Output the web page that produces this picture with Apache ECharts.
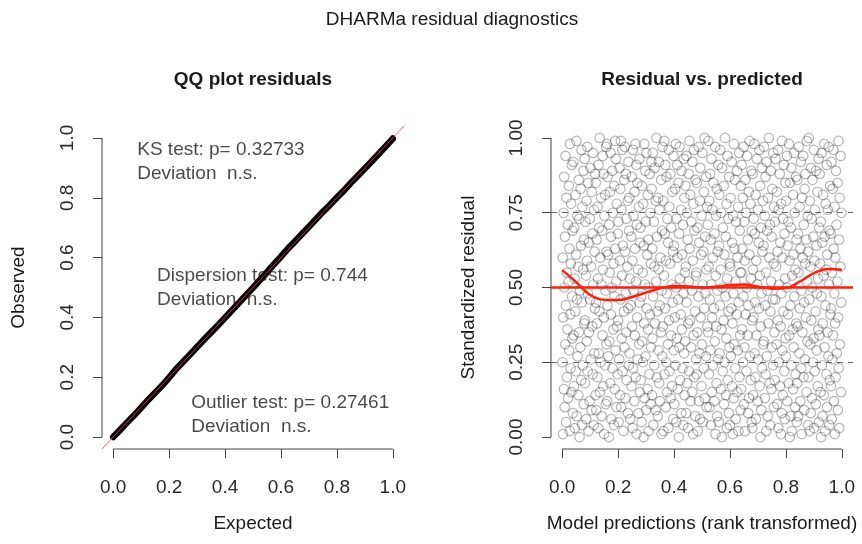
<!DOCTYPE html>
<html>
<head>
<meta charset="utf-8">
<script src="https://cdn.jsdelivr.net/npm/echarts@6/dist/echarts.min.js"></script>
<style>
  html, body { margin: 0; padding: 0; background: #fff; }
  #chart { width: 862px; height: 544px; }
</style>
</head>
<body>
<div id="chart"></div>
<script>
// ---- Titles and texts ----
const mainTitle = 'DHARMa residual diagnostics';
const qqTitle = 'QQ plot residuals';
const residTitle = 'Residual vs. predicted';
const testTexts = [
  'KS test: p= 0.32733\nDeviation  n.s.',
  'Dispersion test: p= 0.744\nDeviation  n.s.',
  'Outlier test: p= 0.27461\nDeviation  n.s.'
];

// ---- Tick labels ----
const qqTicks = [0, 0.2, 0.4, 0.6, 0.8, 1];
const predTicks = [0, 0.2, 0.4, 0.6, 0.8, 1];
const residTicks = [0, 0.25, 0.5, 0.75, 1];

// ---- QQ plot: expected vs observed quantiles ----
const qqExpected = [0,0.025,0.05,0.075,0.1,0.125,0.15,0.175,0.2,0.225,0.25,0.275,0.3,0.325,0.35,0.375,0.4,0.425,0.45,0.475,0.5,
  0.525,0.55,0.575,0.6,0.625,0.65,0.675,0.7,0.725,0.75,0.775,0.8,0.825,0.85,0.875,0.9,0.925,0.95,0.975,1];
const qqObserved = [0.000,0.024,0.049,0.073,0.098,0.124,0.148,0.172,0.199,0.227,0.252,0.276,0.301,0.326,0.350,0.374,0.399,0.424,0.449,0.474,0.499,
  0.525,0.551,0.578,0.603,0.630,0.654,0.679,0.703,0.728,0.753,0.776,0.801,0.824,0.850,0.874,0.898,0.922,0.947,0.972,0.998];

// ---- Residuals vs rank-transformed predictions ----
const predicted = [
.003,.027,.014,.038,.009,.021,.033,.006,.017,.030,.001,.025,.011,.036,.019,.004,.029,.013,.035,.008,.023,.016,.031,.002,.026,.010,.037,.020,.005,.032,.015,.024,.007,.034,.012,.028,
.062,.045,.071,.052,.077,.058,.042,.068,.049,.074,.055,.065,.041,.060,.079,.047,.070,.053,.064,.044,.075,.057,.050,.067,.078,.043,.061,.054,.072,.048,.066,.059,.076,.040,.069,.051,
.094,.113,.086,.105,.098,.119,.082,.109,.091,.102,.115,.088,.096,.107,.081,.117,.100,.092,.111,.085,.104,.089,.116,.095,.108,.083,.099,.114,.087,.106,.093,.118,.101,.080,.110,.090,
.150,.129,.141,.122,.156,.135,.147,.126,.153,.138,.131,.158,.144,.124,.149,.133,.121,.155,.140,.128,.146,.136,.159,.123,.143,.132,.151,.127,.139,.154,.120,.148,.130,.145,.157,.134,
.167,.185,.176,.194,.161,.188,.172,.198,.180,.165,.191,.169,.183,.196,.174,.162,.187,.178,.193,.170,.184,.164,.190,.175,.199,.168,.181,.195,.171,.186,.163,.179,.192,.173,.160,.189,
.219,.202,.235,.211,.226,.207,.231,.216,.238,.204,.223,.213,.229,.200,.221,.236,.209,.227,.214,.233,.206,.225,.217,.239,.201,.230,.212,.234,.208,.222,.228,.205,.237,.215,.224,.210,
.266,.252,.243,.273,.258,.278,.248,.263,.254,.270,.241,.275,.260,.250,.268,.245,.277,.256,.264,.242,.271,.251,.261,.279,.247,.267,.255,.274,.240,.259,.269,.249,.265,.276,.253,.262,
.291,.309,.284,.300,.316,.295,.305,.281,.312,.289,.298,.318,.286,.307,.293,.314,.302,.283,.310,.296,.288,.317,.304,.292,.308,.280,.299,.315,.290,.306,.285,.313,.297,.319,.301,.294,
.355,.326,.342,.334,.350,.321,.347,.338,.329,.358,.344,.323,.353,.332,.340,.349,.325,.356,.336,.345,.330,.351,.322,.339,.357,.328,.348,.335,.343,.320,.354,.331,.346,.324,.359,.337,
.362,.380,.397,.370,.388,.375,.393,.366,.384,.372,.399,.378,.389,.360,.382,.368,.395,.374,.391,.364,.386,.371,.396,.379,.367,.390,.376,.383,.361,.394,.373,.387,.369,.398,.381,.365,
.417,.433,.408,.426,.401,.438,.413,.422,.430,.405,.436,.419,.410,.428,.403,.424,.415,.434,.407,.421,.439,.412,.429,.400,.418,.432,.409,.425,.437,.404,.416,.427,.411,.435,.420,.406,
.468,.450,.476,.443,.459,.465,.447,.472,.454,.479,.461,.440,.470,.451,.457,.475,.445,.464,.453,.478,.442,.467,.456,.449,.473,.462,.446,.469,.458,.441,.477,.452,.466,.444,.471,.455,
.485,.503,.493,.517,.489,.510,.498,.481,.506,.514,.491,.500,.483,.519,.495,.508,.487,.512,.502,.480,.516,.497,.505,.490,.511,.484,.499,.518,.492,.507,.482,.515,.494,.501,.488,.509,
.523,.547,.534,.558,.529,.541,.553,.526,.537,.550,.521,.545,.531,.556,.539,.524,.549,.533,.555,.528,.543,.536,.551,.522,.546,.530,.557,.540,.525,.552,.535,.544,.527,.554,.532,.548,
.582,.565,.591,.572,.597,.578,.562,.588,.569,.594,.575,.585,.561,.580,.599,.567,.590,.573,.584,.564,.595,.577,.570,.587,.598,.563,.581,.574,.592,.568,.586,.579,.596,.560,.589,.571,
.614,.633,.606,.625,.618,.639,.602,.629,.611,.622,.635,.608,.616,.627,.601,.637,.620,.612,.631,.605,.624,.609,.636,.615,.628,.603,.619,.634,.607,.626,.613,.638,.621,.600,.630,.610,
.670,.649,.661,.642,.676,.655,.667,.646,.673,.658,.651,.678,.664,.644,.669,.653,.641,.675,.660,.648,.666,.656,.679,.643,.663,.652,.671,.647,.659,.674,.640,.668,.650,.665,.677,.654,
.687,.705,.696,.714,.681,.708,.692,.718,.700,.685,.711,.689,.703,.716,.694,.682,.707,.698,.713,.690,.704,.684,.710,.695,.719,.688,.701,.715,.691,.706,.683,.699,.712,.693,.680,.709,
.739,.722,.755,.731,.746,.727,.751,.736,.758,.724,.743,.733,.749,.720,.741,.756,.729,.747,.734,.753,.726,.745,.737,.759,.721,.750,.732,.754,.728,.742,.748,.725,.757,.735,.744,.730,
.786,.772,.763,.793,.778,.798,.768,.783,.774,.790,.761,.795,.780,.770,.788,.765,.797,.776,.784,.762,.791,.771,.781,.799,.767,.787,.775,.794,.760,.779,.789,.769,.785,.796,.773,.782,
.811,.829,.804,.820,.836,.815,.825,.801,.832,.809,.818,.838,.806,.827,.813,.834,.822,.803,.830,.816,.808,.837,.824,.812,.828,.800,.819,.835,.810,.826,.805,.833,.817,.839,.821,.814,
.875,.846,.862,.854,.870,.841,.867,.858,.849,.878,.864,.843,.873,.852,.860,.869,.845,.876,.856,.865,.850,.871,.842,.859,.877,.848,.868,.855,.863,.840,.874,.851,.866,.844,.879,.857,
.882,.900,.917,.890,.908,.895,.913,.886,.904,.892,.919,.898,.909,.880,.902,.888,.915,.894,.911,.884,.906,.891,.916,.899,.887,.910,.896,.903,.881,.914,.893,.907,.889,.918,.901,.885,
.937,.953,.928,.946,.921,.958,.933,.942,.950,.925,.956,.939,.930,.948,.923,.944,.935,.954,.927,.941,.959,.932,.949,.920,.938,.952,.929,.945,.957,.924,.936,.947,.931,.955,.940,.926,
.988,.970,.996,.963,.979,.985,.967,.992,.974,.999,.981,.960,.990,.971,.977,.995,.965,.984,.973,.998,.962,.987,.976,.969,.993,.982,.966,.989,.978,.961,.997,.972,.986,.964,.991,.975
];
const residuals = [
.01,.02,.05,.08,.10,.13,.15,.16,.20,.23,.25,.29,.31,.33,.36,.40,.41,.44,.47,.50,.52,.55,.58,.60,.63,.67,.69,.71,.75,.78,.80,.84,.87,.91,.94,.98,
.00,.03,.04,.07,.11,.14,.17,.19,.22,.24,.27,.30,.34,.35,.38,.42,.45,.46,.49,.53,.56,.57,.61,.64,.66,.70,.73,.74,.77,.81,.83,.86,.89,.92,.96,.99,
.02,.04,.06,.09,.12,.14,.18,.21,.22,.26,.28,.32,.35,.37,.39,.43,.46,.48,.51,.54,.57,.59,.62,.65,.68,.72,.73,.76,.79,.82,.85,.88,.90,.93,.95,.97,
.01,.03,.07,.09,.11,.15,.17,.20,.24,.25,.28,.31,.34,.38,.40,.42,.45,.49,.51,.53,.56,.60,.62,.66,.69,.70,.74,.77,.80,.81,.85,.88,.91,.94,.97,1.00,
.00,.04,.06,.10,.12,.16,.18,.21,.23,.27,.29,.32,.36,.37,.41,.44,.47,.50,.52,.55,.58,.61,.63,.67,.68,.71,.75,.78,.82,.84,.87,.89,.93,.95,.98,.99,
.02,.05,.08,.10,.13,.14,.19,.22,.24,.26,.30,.33,.35,.39,.42,.43,.46,.48,.54,.57,.59,.62,.64,.69,.72,.73,.76,.79,.83,.86,.88,.90,.92,.96,.97,.99,
.01,.03,.06,.08,.12,.15,.17,.20,.23,.26,.28,.31,.34,.37,.40,.44,.45,.49,.52,.53,.56,.59,.63,.65,.67,.71,.74,.77,.80,.82,.85,.87,.91,.93,.96,.98,
.00,.02,.05,.09,.11,.13,.16,.19,.21,.25,.27,.30,.32,.36,.38,.41,.43,.47,.50,.51,.55,.58,.61,.64,.66,.70,.72,.75,.78,.81,.84,.88,.89,.92,.95,.98,
.01,.04,.07,.09,.12,.14,.18,.20,.24,.27,.29,.33,.35,.38,.42,.44,.47,.49,.52,.56,.57,.60,.63,.67,.69,.72,.76,.79,.80,.83,.86,.90,.92,.95,.97,1.00,
.02,.03,.06,.10,.13,.15,.17,.21,.22,.25,.29,.31,.34,.37,.39,.43,.45,.48,.51,.54,.58,.59,.62,.65,.68,.70,.73,.77,.79,.82,.87,.88,.91,.94,.96,.99,
.00,.04,.05,.08,.11,.14,.16,.19,.23,.24,.28,.30,.33,.36,.40,.41,.46,.48,.50,.53,.55,.60,.61,.64,.68,.71,.73,.76,.80,.83,.85,.89,.91,.93,.97,.98,
.01,.03,.07,.08,.12,.15,.18,.20,.22,.26,.30,.32,.34,.38,.39,.42,.45,.49,.52,.54,.57,.59,.63,.66,.69,.72,.75,.78,.81,.84,.86,.88,.92,.94,.96,.99,
.02,.05,.06,.10,.12,.13,.17,.21,.23,.27,.28,.31,.35,.37,.40,.43,.47,.48,.51,.55,.56,.61,.62,.65,.67,.70,.74,.77,.79,.82,.85,.87,.90,.95,.97,1.00,
.99,.97,.93,.91,.88,.85,.83,.79,.76,.74,.71,.68,.66,.62,.60,.57,.54,.51,.49,.46,.43,.40,.37,.35,.32,.29,.26,.24,.21,.18,.15,.12,.10,.07,.04,.01,
1.00,.96,.94,.90,.87,.84,.81,.78,.75,.73,.70,.67,.64,.61,.58,.56,.53,.50,.47,.44,.42,.39,.36,.33,.30,.28,.25,.22,.19,.16,.14,.11,.08,.05,.03,.00,
.98,.95,.92,.89,.86,.84,.80,.77,.74,.72,.69,.65,.63,.60,.57,.55,.52,.48,.45,.43,.41,.38,.34,.31,.29,.27,.23,.20,.17,.15,.13,.09,.06,.04,.02,.01,
.99,.97,.94,.91,.89,.86,.82,.80,.78,.75,.72,.69,.66,.63,.61,.59,.55,.53,.50,.47,.44,.41,.39,.36,.34,.30,.27,.25,.22,.19,.16,.13,.11,.08,.05,.02,
.98,.96,.93,.90,.88,.84,.81,.79,.76,.73,.70,.68,.65,.62,.59,.56,.54,.51,.48,.45,.43,.40,.37,.34,.31,.28,.26,.23,.20,.17,.14,.12,.09,.06,.03,.00,
1.00,.97,.95,.92,.89,.87,.83,.80,.77,.74,.71,.69,.67,.64,.60,.58,.55,.52,.49,.46,.44,.42,.38,.35,.32,.30,.27,.24,.21,.18,.16,.13,.10,.07,.04,.02,
.99,.96,.93,.91,.88,.85,.82,.78,.76,.73,.72,.68,.65,.62,.60,.57,.53,.51,.48,.46,.42,.39,.37,.33,.31,.29,.25,.22,.19,.17,.14,.11,.08,.06,.03,.01,
.98,.95,.94,.90,.87,.85,.81,.79,.75,.72,.70,.66,.64,.61,.59,.56,.54,.50,.47,.44,.41,.38,.36,.34,.30,.27,.24,.21,.18,.16,.12,.10,.07,.05,.02,.00,
.99,.97,.94,.92,.88,.86,.83,.80,.77,.74,.71,.68,.66,.63,.60,.58,.55,.52,.49,.45,.43,.40,.37,.35,.32,.28,.26,.23,.20,.18,.15,.12,.09,.07,.04,.01,
1.00,.96,.93,.90,.89,.86,.82,.79,.76,.73,.70,.67,.64,.62,.59,.57,.53,.50,.48,.46,.42,.39,.36,.33,.31,.29,.25,.22,.20,.17,.13,.11,.08,.05,.03,.02,
.98,.97,.95,.91,.88,.84,.81,.78,.76,.72,.69,.67,.65,.61,.58,.56,.54,.51,.47,.44,.41,.38,.35,.34,.30,.27,.24,.21,.19,.15,.14,.10,.07,.04,.02,.00,
.99,.96,.94,.92,.89,.85,.83,.80,.77,.75,.71,.68,.66,.63,.60,.57,.55,.52,.48,.45,.43,.40,.38,.34,.31,.28,.26,.23,.20,.17,.15,.12,.09,.06,.03,.01
];

// ---- Smoothed trend of residuals ----
const smoothX = [0,0.05,0.1,0.15,0.2,0.25,0.3,0.35,0.4,0.45,0.5,0.55,0.6,0.65,0.7,0.75,0.8,0.85,0.9,0.95,1];
const smoothY = [0.558,0.518,0.475,0.459,0.458,0.468,0.483,0.497,0.505,0.503,0.500,0.503,0.508,0.510,0.503,0.496,0.498,0.520,0.548,0.562,0.559];

// ---- Reference levels ----
const quartileLevels = [0.25, 0.75];
const medianLevel = 0.5;

// ---- Drawing ----
const FONT = "'Liberation Sans', Arial, Helvetica, sans-serif";
const PAD = 0.04;              // base-graphics style 4% range extension
const TEXT = '#1a1a1a';
const AXIS_COL = '#444';

const chart = echarts.init(document.getElementById('chart'), null, { renderer: 'canvas' });

function axis(gridIndex, ticks, digits, name, gap, isY) {
  return {
    type: 'value',
    gridIndex,
    min: ticks[0] - PAD,
    max: ticks[ticks.length - 1] + PAD,
    splitLine: { show: false },
    axisLine: { show: false, onZero: false },
    axisTick: { show: true, customValues: ticks, length: 9, lineStyle: { color: AXIS_COL, width: 1 } },
    axisLabel: {
      customValues: ticks,
      formatter: v => Number(v).toFixed(digits),
      fontFamily: FONT, fontSize: 19, color: '#2a2a2a',
      margin: isY ? 25 : 29,
      rotate: isY ? 90 : 0
    },
    name,
    nameLocation: 'middle',
    nameGap: gap,
    nameRotate: isY ? 90 : 0,
    nameTextStyle: { fontFamily: FONT, fontSize: 19, color: TEXT }
  };
}

// detached axis lines spanning only the tick range
function axisLineSeries(xi, yi, pts) {
  return {
    type: 'line', xAxisIndex: xi, yAxisIndex: yi, data: pts, clip: false, silent: true,
    symbol: 'none', lineStyle: { color: AXIS_COL, width: 1 }, z: 1
  };
}

const scatterData = predicted.map((x, i) => [x, residuals[i]]);
const qqData = qqExpected.map((x, i) => [x, qqObserved[i]]);
const smoothData = smoothX.map((x, i) => [x, smoothY[i]]);

const annotationPos = [[0.086, 0.92], [0.157, 0.498], [0.279, 0.075]];

const option = {
  animation: false,
  backgroundColor: '#fff',
  title: [
    { text: mainTitle, left: 452, top: 10, textAlign: 'center', padding: 0,
      textStyle: { fontFamily: FONT, fontSize: 19, fontWeight: 'normal', color: TEXT } },
    { text: qqTitle, left: 253, top: 70, textAlign: 'center', padding: 0,
      textStyle: { fontFamily: FONT, fontSize: 19, fontWeight: 'bold', color: TEXT } },
    { text: residTitle, left: 702, top: 70, textAlign: 'center', padding: 0,
      textStyle: { fontFamily: FONT, fontSize: 19, fontWeight: 'bold', color: TEXT } }
  ],
  grid: [
    { left: 102, top: 126, width: 302, height: 323 },
    { left: 551, top: 126, width: 302, height: 323 }
  ],
  xAxis: [
    axis(0, qqTicks, 1, 'Expected', 65, false),
    axis(1, predTicks, 1, 'Model predictions (rank transformed)', 65, false)
  ],
  yAxis: [
    axis(0, qqTicks, 1, 'Observed', 74, true),
    axis(1, residTicks, 2, 'Standardized residual', 73, true)
  ],
  series: [
    axisLineSeries(0, 0, [[qqTicks[0], qqTicks[0] - PAD], [qqTicks[qqTicks.length - 1], qqTicks[0] - PAD]]),
    axisLineSeries(0, 0, [[qqTicks[0] - PAD, qqTicks[0]], [qqTicks[0] - PAD, qqTicks[qqTicks.length - 1]]]),
    axisLineSeries(1, 1, [[predTicks[0], residTicks[0] - PAD], [predTicks[predTicks.length - 1], residTicks[0] - PAD]]),
    axisLineSeries(1, 1, [[predTicks[0] - PAD, residTicks[0]], [predTicks[0] - PAD, residTicks[residTicks.length - 1]]]),
    {
      name: 'QQ', type: 'line', xAxisIndex: 0, yAxisIndex: 0, data: qqData,
      symbol: 'none', silent: true, z: 3,
      lineStyle: { color: '#000', width: 6.5, cap: 'round', join: 'round' }
    },
    {
      name: 'identity', type: 'line', xAxisIndex: 0, yAxisIndex: 0,
      data: [[qqTicks[0] - PAD, qqTicks[0] - PAD], [qqTicks[qqTicks.length - 1] + PAD, qqTicks[qqTicks.length - 1] + PAD]],
      symbol: 'none', silent: true, z: 4,
      lineStyle: { color: 'rgba(225,70,90,0.85)', width: 1 }
    },
    {
      name: 'tests', type: 'scatter', xAxisIndex: 0, yAxisIndex: 0, symbolSize: 0, silent: true, z: 5,
      data: testTexts.map((t, i) => ({ value: annotationPos[i], name: t })),
      label: {
        show: true, position: 'right', distance: 0, formatter: '{b}', align: 'left',
        fontFamily: FONT, fontSize: 19, lineHeight: 24, color: TEXT
      }
    },
    {
      name: 'residuals', type: 'scatter', xAxisIndex: 1, yAxisIndex: 1, data: scatterData,
      symbol: 'circle', symbolSize: 9.5, silent: true, z: 2,
      itemStyle: { color: 'rgba(0,0,0,0)', borderColor: 'rgba(0,0,0,0.36)', borderWidth: 1.2 },
      markLine: {
        silent: true, symbol: 'none', label: { show: false },
        lineStyle: { color: 'rgba(80,80,80,0.85)', type: [6, 5], width: 1 },
        data: quartileLevels.map(v => ({ yAxis: v }))
      }
    },
    {
      name: 'trend', type: 'line', xAxisIndex: 1, yAxisIndex: 1, data: smoothData,
      symbol: 'none', smooth: 0.4, silent: true, z: 6,
      lineStyle: { color: '#ff1e0a', width: 2.5 },
      markLine: {
        silent: true, symbol: 'none', label: { show: false },
        lineStyle: { color: '#ff1e0a', type: 'solid', width: 2.5 },
        data: [{ yAxis: medianLevel }]
      }
    }
  ]
};

chart.setOption(option);
</script>
</body>
</html>
